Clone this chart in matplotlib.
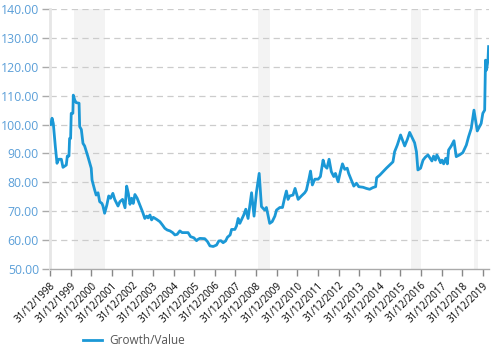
import matplotlib
matplotlib.use('Agg')
import matplotlib.pyplot as plt

# decimal years, 1999.0 = 31/12/1998
years = [1999.03, 1999.10, 1999.16, 1999.26, 1999.34, 1999.42, 1999.55, 1999.63, 1999.79, 1999.84,
         1999.92, 1999.95, 2000.00, 2000.03, 2000.11, 2000.13, 2000.20, 2000.27, 2000.41, 2000.44,
         2000.52, 2000.60, 2000.68, 2000.84, 2001.00, 2001.04, 2001.17, 2001.24, 2001.33, 2001.41,
         2001.52, 2001.57, 2001.65, 2001.76, 2001.85, 2001.94, 2002.05, 2002.14, 2002.30, 2002.39,
         2002.52, 2002.64, 2002.72, 2002.80, 2002.88, 2002.96, 2003.04, 2003.12, 2003.23, 2003.33,
         2003.49, 2003.60, 2003.69, 2003.76, 2003.85, 2003.93, 2004.01, 2004.17, 2004.33, 2004.46,
         2004.57, 2004.69, 2004.82, 2004.95, 2005.06, 2005.17, 2005.30, 2005.41, 2005.54, 2005.70,
         2005.82, 2005.98, 2006.11, 2006.19, 2006.27, 2006.51, 2006.64, 2006.76, 2006.92, 2007.08,
         2007.19, 2007.29, 2007.40, 2007.52, 2007.61, 2007.74, 2007.81, 2007.97, 2008.05, 2008.13,
         2008.21, 2008.32, 2008.40, 2008.50, 2008.61, 2008.78, 2008.90, 2009.02, 2009.15, 2009.26,
         2009.42, 2009.50, 2009.66, 2009.78, 2009.91, 2009.99, 2010.15, 2010.28, 2010.39, 2010.47,
         2010.55, 2010.63, 2010.79, 2010.89, 2011.04, 2011.20, 2011.36, 2011.44, 2011.57, 2011.64,
         2011.73, 2011.85, 2012.01, 2012.12, 2012.25, 2012.33, 2012.44, 2012.54, 2012.65, 2012.77,
         2012.85, 2012.98, 2013.09, 2013.19, 2013.30, 2013.42, 2013.49, 2013.62, 2013.74, 2013.87,
         2013.98, 2014.19, 2014.35, 2014.51, 2014.67, 2014.80, 2014.85, 2015.00, 2015.16, 2015.32,
         2015.48, 2015.64, 2015.72, 2015.85, 2016.01, 2016.21, 2016.34, 2016.45, 2016.69, 2016.78,
         2016.85, 2016.98, 2017.10, 2017.21, 2017.34, 2017.45, 2017.53, 2017.61, 2017.70, 2017.77,
         2017.86, 2017.95, 2018.02, 2018.10, 2018.20, 2018.28, 2018.34, 2018.47, 2018.60, 2018.71,
         2018.87, 2019.03, 2019.20, 2019.31, 2019.44, 2019.57, 2019.73, 2019.84, 2019.92, 2020.00,
         2020.09, 2020.13, 2020.18, 2020.25, 2020.28]
values = [100.0, 102.2, 100.4, 92.3, 86.6, 88.0, 88.0, 85.2, 86.0, 89.1,
          89.1, 95.2, 95.2, 103.9, 103.9, 110.2, 108.5, 107.6, 107.4, 99.3,
          98.3, 93.5, 92.6, 88.9, 84.9, 80.8, 77.3, 75.6, 76.4, 73.3,
          72.7, 71.8, 69.3, 72.2, 75.3, 74.5, 76.2, 74.1, 71.8, 73.3,
          74.1, 71.2, 78.7, 76.2, 72.4, 74.5, 72.7, 75.8, 74.5, 72.7,
          69.8, 67.5, 68.3, 67.7, 68.7, 67.0, 67.9, 67.2, 66.4, 65.2,
          64.1, 63.5, 63.2, 62.6, 61.8, 62.0, 63.2, 62.6, 62.6, 62.6,
          61.2, 60.8, 59.8, 60.3, 60.6, 60.5, 59.5, 58.0, 57.8, 58.3,
          59.7, 59.8, 59.1, 59.7, 61.0, 61.8, 63.7, 63.7, 64.9, 67.5,
          65.8, 67.5, 68.7, 70.7, 67.5, 76.4, 68.3, 76.8, 83.1, 71.6,
          70.4, 71.3, 65.8, 66.4, 68.3, 70.4, 71.3, 71.3, 74.8, 77.0,
          74.1, 75.3, 75.6, 77.9, 74.1, 75.3, 76.4, 77.3, 81.4, 83.9,
          79.1, 81.1, 81.1, 82.0, 87.7, 85.7, 84.9, 88.0, 83.7, 82.0,
          83.1, 80.2, 83.7, 86.4, 84.5, 84.9, 83.1, 80.8, 78.7, 79.7,
          78.5, 78.3, 77.9, 77.6, 78.2, 78.5, 81.6, 82.5, 83.7, 84.9,
          86.0, 87.1, 90.6, 92.9, 96.4, 92.6, 94.9, 97.3, 93.7, 90.6,
          84.3, 84.9, 87.7, 88.7, 89.5, 88.3, 87.4, 89.1, 87.7, 89.5,
          88.3, 86.8, 87.7, 86.4, 88.3, 86.4, 91.2, 92.6, 94.4, 88.9,
          89.5, 90.3, 92.9, 95.8, 98.7, 105.0, 97.8, 99.3, 100.4, 103.9,
          105.0, 122.3, 118.9, 122.3, 127.0]

shade_start = [2000.16, 2009.08, 2016.51, 2019.55]
shade_end = [2001.67, 2009.66, 2017.02, 2019.78]

tick_years = list(range(1999, 2021))
tick_labels = ['31/12/%d' % (y - 1) for y in tick_years]
y_ticks = [50, 60, 70, 80, 90, 100, 110, 120, 130, 140]

plt.rcParams['font.family'] = ['Open Sans', 'DejaVu Sans']

fig = plt.figure(figsize=(5, 3.48), dpi=100)
ax = fig.add_axes([0.1, 0.227, 0.878, 0.747])

for s, e in zip(shade_start, shade_end):
    ax.axvspan(s, e, color='#f3f3f3', zorder=0, lw=0)

ax.plot(years, values, color='#1b98d6', linewidth=2, label='Growth/Value', zorder=3)

ax.set_xlim(1999.0, 2020.3)
ax.set_ylim(50, 140)
ax.set_yticks(y_ticks)
ax.set_yticklabels(['%.2f' % v for v in y_ticks], color='#5b9fd8', fontsize=8.8)
ax.set_xticks(tick_years)
ax.set_xticklabels(tick_labels, rotation=45, ha='right', rotation_mode='anchor', fontsize=7)

for v in y_ticks[1:]:
    ax.axhline(v, color='#cccccc', linewidth=0.9, linestyle=(0, (5, 3.5)), zorder=1)

for side in ['top', 'right']:
    ax.spines[side].set_visible(False)
ax.spines['left'].set_color('#e6e6e6')
ax.spines['left'].set_linewidth(2)
ax.spines['bottom'].set_color('#aaaaaa')
ax.spines['bottom'].set_linewidth(1)
ax.tick_params(axis='y', length=6, color='#aaaaaa', width=1, pad=2)
ax.tick_params(axis='x', length=5, color='#888888', width=1, pad=3)

fig.legend(loc='lower left', bbox_to_anchor=(0.145, -0.027), frameon=False,
           fontsize=8.5, handlelength=1.6, handletextpad=0.6, labelcolor='#555555')

fig.savefig('out.png', dpi=100)
